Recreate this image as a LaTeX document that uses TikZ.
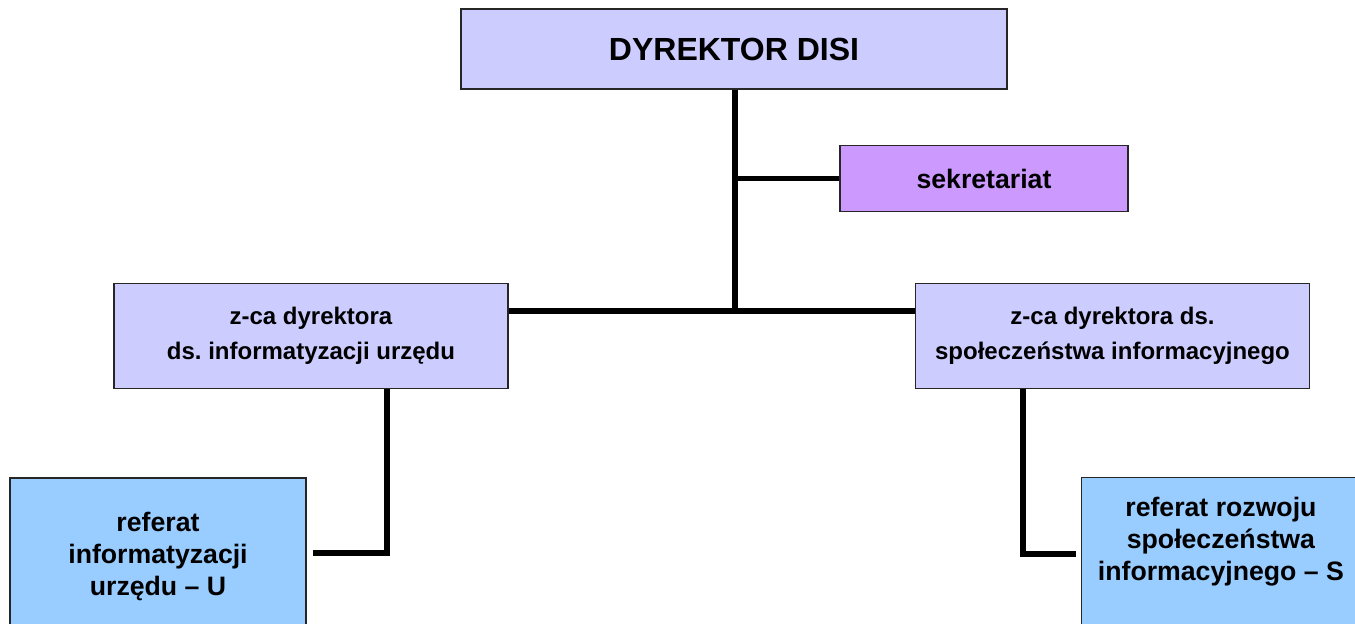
\documentclass[tikz,border=0pt]{standalone}
\usepackage{fontspec}
\setmainfont{Liberation Sans}
\frenchspacing
\definecolor{dirblue}{HTML}{CCCCFF}
\definecolor{secviolet}{HTML}{CC99FF}
\definecolor{refblue}{HTML}{99CCFF}
\tikzset{
  unitbox/.style={draw=black!85, line width=0.9pt, align=center, inner sep=0pt,
    font=\bfseries\fontsize{18}{26}\selectfont},
  refbox/.style={unitbox, fill=refblue, font=\bfseries\fontsize{20}{24}\selectfont},
  link/.style={line width=4pt},
}
\begin{document}
\begin{tikzpicture}[x=0.75pt,y=-0.75pt]
\useasboundingbox (0,0) rectangle (1355,624);
% kierownictwo
\node[unitbox, fill=dirblue, minimum width=409.5pt, minimum height=60pt,
  font=\bfseries\fontsize{24}{28}\selectfont] (dyr) at (734,49) {DYREKTOR DISI};
\node[unitbox, fill=secviolet, minimum width=216pt, minimum height=50pt,
  font=\bfseries\fontsize{20}{24}\selectfont] (sekr) at (984,178.5) {sekretariat};
% zastepcy
\node[unitbox, fill=dirblue, minimum width=295.5pt, minimum height=78.75pt] (zcaU) at (311,336)
  {z-ca dyrektora\\ds. informatyzacji urzędu};
\node[unitbox, fill=dirblue, minimum width=295pt, minimum height=78.75pt] (zcaS) at (1112.5,336)
  {z-ca dyrektora ds.\\społeczeństwa informacyjnego};
% referaty
\node[refbox, minimum width=222pt, minimum height=117pt] (refU) at (158,556)
  {referat\\informatyzacji\\urzędu -- U};
\node[refbox, minimum width=209pt, inner ysep=15pt, anchor=north west] (refS) at (1081,477)
  {referat rozwoju\\społeczeństwa\\informacyjnego -- S\\ \mbox{}};
% polaczenia
\coordinate (hub) at (735,311);
\coordinate (kneeU) at (387,553);
\coordinate (kneeS) at (1023,554);
\draw[link] (dyr.south -| hub) -- (hub);
\draw[link] (sekr.west) -- (sekr.west -| hub);
\draw[link] (zcaU.east |- hub) -- (zcaS.west |- hub);
\draw[link, shorten >=4.5pt] (kneeU |- zcaU.south) -- (kneeU) -- (refU.east |- kneeU);
\draw[link, shorten >=3.75pt] (kneeS |- zcaS.south) -- (kneeS) -- (refS.west |- kneeS);
\end{tikzpicture}
\end{document}
